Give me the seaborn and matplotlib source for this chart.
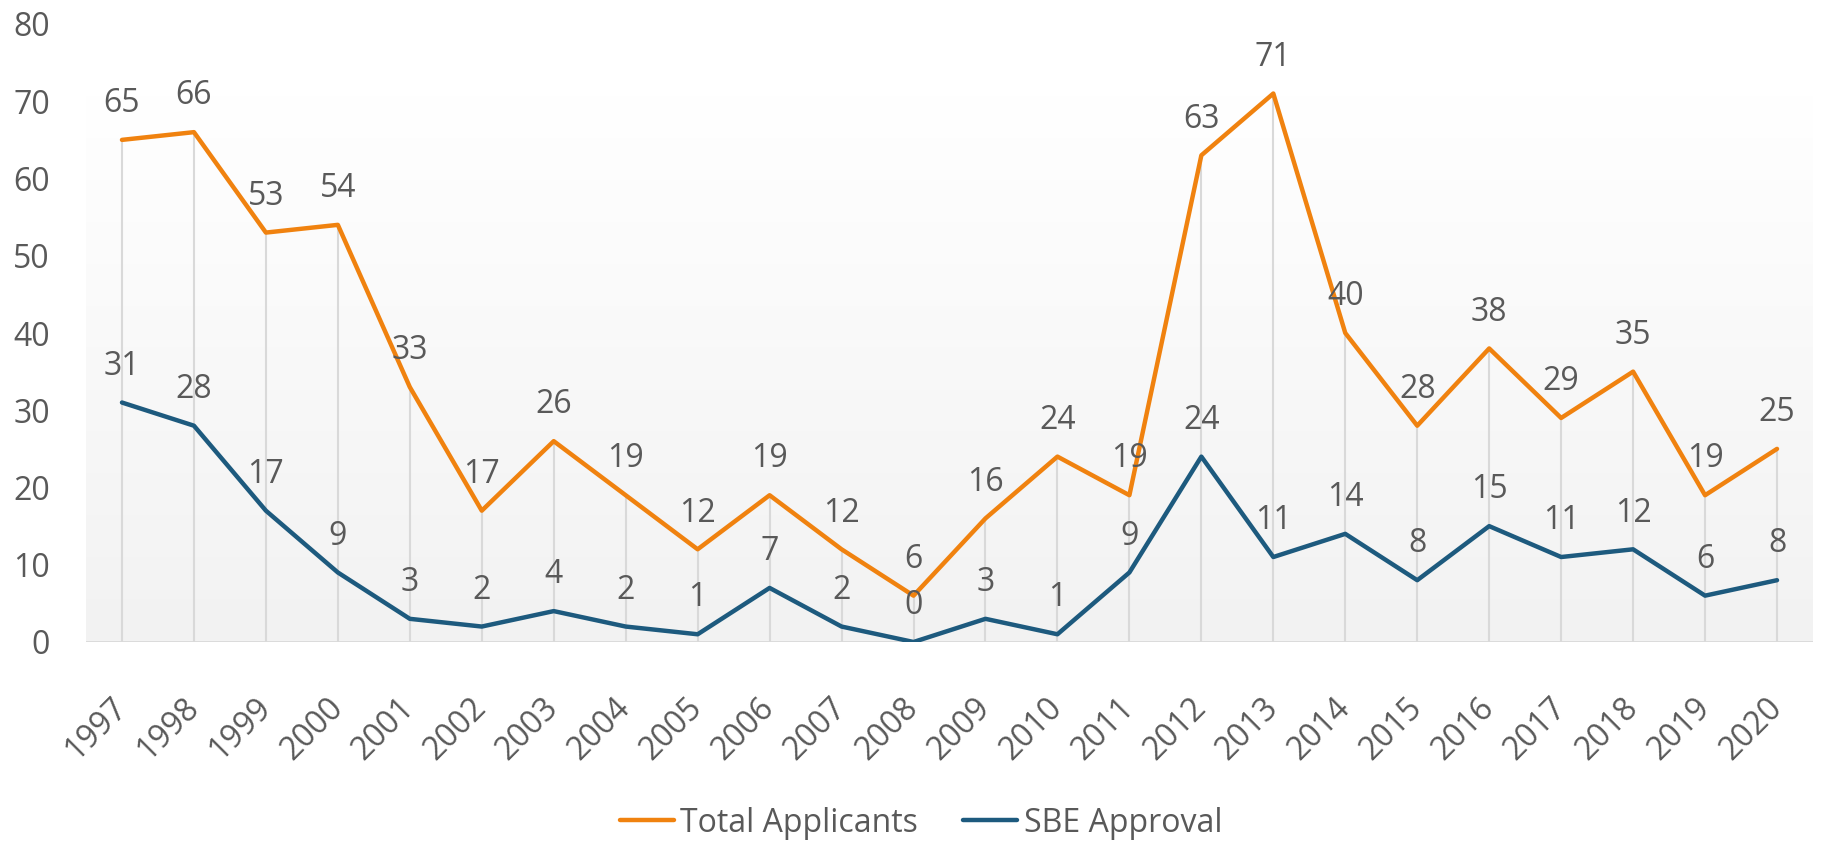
import numpy as np
import pandas as pd
import matplotlib
matplotlib.use("Agg")
import matplotlib.pyplot as plt
from matplotlib.colors import LinearSegmentedColormap
import seaborn as sns

years = list(range(1997, 2021))
total_applicants = [65, 66, 53, 54, 33, 17, 26, 19, 12, 19, 12, 6, 16, 24, 19, 63, 71, 40, 28, 38, 29, 35, 19, 25]
sbe_approval = [31, 28, 17, 9, 3, 2, 4, 2, 1, 7, 2, 0, 3, 1, 9, 24, 11, 14, 8, 15, 11, 12, 6, 8]
y_ticks = [0, 10, 20, 30, 40, 50, 60, 70, 80]

ORANGE = "#F0820F"
BLUE = "#1D5A7E"
TEXT = "#595959"
GRID = "#D9D9D9"
FS = 23

sns.set_theme(style="white")
plt.rcParams["font.family"] = ["Open Sans", "DejaVu Sans"]

fig = plt.figure(figsize=(18.26, 8.41), dpi=100)
ax = fig.add_axes([86 / 1826, 1 - 642 / 841, 1727 / 1826, 618 / 841])

df = pd.DataFrame({"year": years, "Total Applicants": total_applicants, "SBE Approval": sbe_approval})

# gradient plot-area background
cmap = LinearSegmentedColormap.from_list("g", ["#F2F2F2", "#FFFFFF"])
grad = np.linspace(0, 1, 256).reshape(-1, 1)
ax.imshow(grad, cmap=cmap, origin="lower", aspect="auto",
          extent=(years[0] - 0.5, years[-1] + 0.5, 0, 70.8), zorder=0)

# drop lines
ax.vlines(df["year"], 0, df["Total Applicants"], color=GRID, lw=1.5, zorder=1)
ax.axhline(0, color=GRID, lw=2, zorder=1)

sns.lineplot(data=df, x="year", y="Total Applicants", color=ORANGE, lw=3.2,
             ax=ax, label="Total Applicants", zorder=3)
sns.lineplot(data=df, x="year", y="SBE Approval", color=BLUE, lw=3.2,
             ax=ax, label="SBE Approval", zorder=3)

for col in ["Total Applicants", "SBE Approval"]:
    for x, v in zip(df["year"], df[col]):
        ax.annotate(str(v), (x, v), xytext=(0, 20), textcoords="offset points",
                    ha="center", va="baseline", fontsize=FS, color=TEXT, zorder=4)

ax.set_xlim(years[0] - 0.5, years[-1] + 0.5)
ax.set_ylim(0, 80)
ax.set_yticks(y_ticks)
ax.set_yticklabels([str(t) for t in y_ticks], fontsize=FS, color=TEXT)
ax.set_xticks(years)
ax.set_xticklabels([str(y) for y in years], fontsize=FS, color=TEXT,
                   rotation=45, ha="right", va="center", rotation_mode="anchor")
ax.tick_params(axis="y", length=0, pad=26)
ax.tick_params(axis="x", length=0, pad=44)
ax.set_xlabel("")
ax.set_ylabel("")
for s in ax.spines.values():
    s.set_visible(False)
ax.set_facecolor("white")

ax.get_legend().remove()
handles, labels = ax.get_legend_handles_labels()
fig.legend(handles, labels, loc="center", bbox_to_anchor=(921 / 1826, 1 - 823 / 841),
           ncol=2, frameon=False, fontsize=FS, handlelength=1.7, handletextpad=0.2,
           columnspacing=1.4, labelcolor=TEXT)

fig.savefig("out.png", dpi=100, facecolor="white")
